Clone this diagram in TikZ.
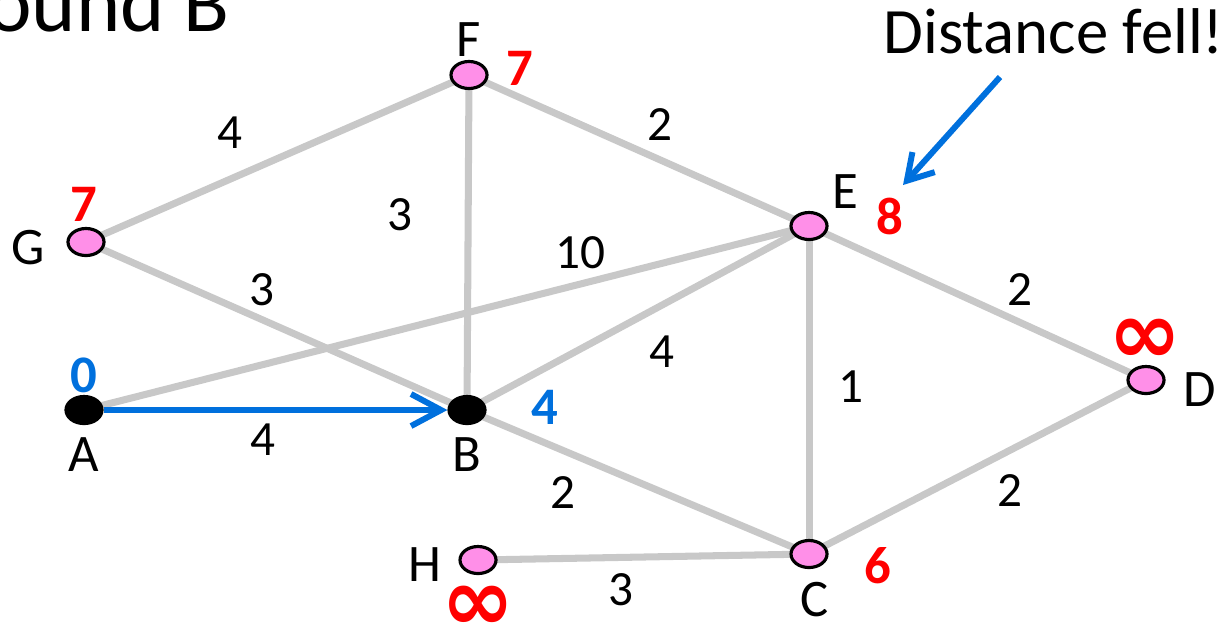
\documentclass[tikz,border=0pt]{standalone}
\usepackage{fontspec}
\setmainfont{Carlito}
\newfontfamily\symfont{DejaVu Sans}
\usetikzlibrary{shapes.geometric,arrows.meta,backgrounds}
\definecolor{edgegray}{RGB}{200,200,200}
\definecolor{vertpink}{RGB}{255,143,232}
\definecolor{distred}{RGB}{255,0,0}
\definecolor{distblue}{RGB}{0,112,221}

\begin{document}
\begin{tikzpicture}[x=0.01cm,y=-0.01cm,
    vert/.style={ellipse,draw,line width=0.9pt,fill=vertpink,minimum width=0.36cm,minimum height=0.27cm,inner sep=0pt},
    done/.style={vert,fill=black},
    edge/.style={edgegray,line width=2pt},
    wt/.style={font=\fontsize{14}{16}\selectfont},
    nm/.style={font=\fontsize{15}{18}\selectfont},
    dist/.style={font=\fontsize{15}{18}\selectfont\bfseries,text=distred},
    inf/.style={text=distred,inner sep=0pt,font=\symfont\bfseries\fontsize{25}{25}\selectfont}]
  \useasboundingbox (0,0) rectangle (1225,626);

  % vertices
  \node[done] (A) at (84,410) {};
  \node[done] (B) at (467,410) {};
  \node[vert] (G) at (86,242) {};
  \node[vert] (F) at (469,75) {};
  \node[vert] (E) at (809,226) {};
  \node[vert] (D) at (1146,380) {};
  \node[vert] (C) at (809,554) {};
  \node[vert] (H) at (478,560) {};

  % edges
  \begin{scope}[on background layer]
    \foreach \u/\v in {G/F, F/B, F/E, G/B, A/E, B/E, E/D, E/C, B/C, C/D, H/C}
      \draw[edge] (\u.center) -- (\v.center);
  \end{scope}
  \draw[distblue,line width=1.7pt,-{Straight Barb[length=0.3cm,width=0.32cm,line width=1.7pt]}] (A) -- (B);

  % weights
  \node[wt] (wGF) at (230,133) {4};
  \node[wt] (wFB) at (400,215) {3};
  \node[wt] (wFE) at (660,125) {2};
  \node[wt] (wGB) at (262,290) {3};
  \node[wt] (wAE) at (580,253) {10};
  \node[wt] (wBE) at (662,352) {4};
  \node[wt] (wED) at (1020,290) {2};
  \node[wt] (wEC) at (851,387) {1};
  \node[wt] (wBC) at (563,493) {2};
  \node[wt] (wCD) at (1010,490) {2};
  \node[wt] (wHC) at (621,590) {3};
  \node[wt] (wAB) at (263,440) {4};

  % names
  \node[nm] (nA) at (84,455) {A};
  \node[nm] (nB) at (467,455) {B};
  \node[nm] (nG) at (28,248) {G};
  \node[nm] (nF) at (469,40) {F};
  \node[nm] (nE) at (845,192) {E};
  \node[nm] (nD) at (1200,390) {D};
  \node[nm] (nC) at (815,600) {C};
  \node[nm] (nH) at (425,565) {H};

  % distances
  \node[dist,text=distblue] (dA) at (84,375) {0};
  \node[dist,text=distblue] (dB) at (545,407) {4};
  \node[dist] (dG) at (84,204) {7};
  \node[dist] (dF) at (520,68) {7};
  \node[dist] (dE) at (890,216) {8};
  \node[dist] (dC) at (878,566) {6};
  \node[inf] (dD) at (1145,341) {∞};
  \node[inf] (dH) at (478,608) {∞};

  % notes
  \node[anchor=base west,font=\fontsize{24}{28}\selectfont] (title) at (-25,31) {ound B};
  \node[anchor=base west,inner sep=0pt,font=\fontsize{18.4}{22}\selectfont] (note) at (883,53) {Distance fell!};
  \coordinate (noteend) at (903,185);
  \draw[distblue,line width=1.7pt,-{Straight Barb[length=0.25cm,width=0.3cm,line width=1.7pt]}] (1000,77) -- (noteend);
\end{tikzpicture}
\end{document}
